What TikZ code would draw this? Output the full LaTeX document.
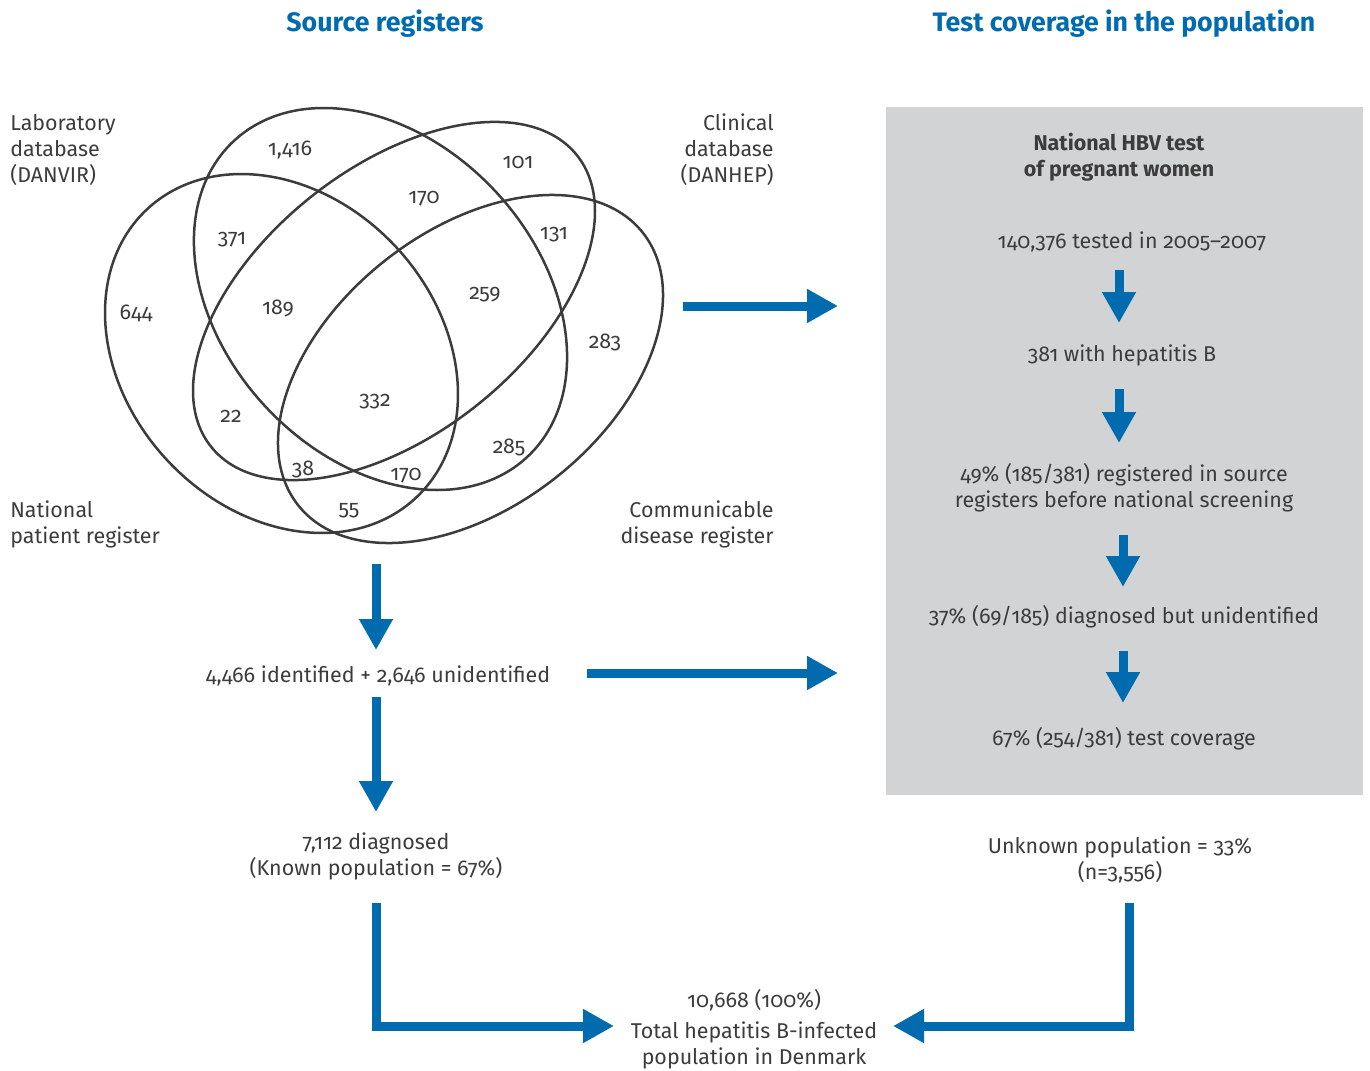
\documentclass[tikz,border=0pt]{standalone}
\usepackage{fontspec}
\setmainfont{Fira Sans}[Numbers=OldStyle]
\usetikzlibrary{arrows.meta}

\definecolor{hbvblue}{RGB}{0,107,174}
\definecolor{txtgray}{RGB}{60,60,60}
\definecolor{boxgray}{RGB}{209,211,212}

\begin{document}
\begin{tikzpicture}[yscale=-1, x=0.2mm, y=0.2mm,
    txt/.style={text=txtgray, font=\fontsize{12.2}{14.8}\selectfont, align=center, inner sep=0pt, yshift=-0.4mm},
    head/.style={text=hbvblue, font=\fontsize{15.2}{18}\selectfont\bfseries, inner sep=0pt, yshift=-0.4mm},
    venn/.style={draw=txtgray, line width=0.5mm},
    bluearrow/.style={draw=hbvblue, line width=1.8mm, -{Triangle[length=6.2mm, width=6.4mm]}}]
    \useasboundingbox (0,0) rectangle (1370,1071);

    % Grey panel on the right
    \fill[boxgray] (886,107) rectangle (1363,795);

    % Headings
    \node[head] (srcHead) at (385,22) {Source registers};
    \node[head] (covHead) at (1124,22) {Test coverage in the population};

    % Draw the four registers
    \draw[venn, rotate around={47.2:(380.5,299)}] (380.5,299) ellipse [x radius=215.6, y radius=157.5];
    \draw[venn, rotate around={-38.5:(394,301)}] (394,301) ellipse [x radius=233.9, y radius=133.2];
    \draw[venn, rotate around={47.1:(281.5,353.5)}] (281.5,353.5) ellipse [x radius=197.2, y radius=156.4];
    \draw[venn, rotate around={-38.3:(470.5,369)}] (470.5,369) ellipse [x radius=219.7, y radius=138.1];

    % Register names
    \node[txt, anchor=west, align=left] (labReg) at (10,148) {Laboratory\\database\\(DANVIR)};
    \node[txt, anchor=east, align=right] (clinReg) at (774,148) {Clinical\\database\\(DANHEP)};
    \node[txt, anchor=west, align=left] (patReg) at (10,522) {National\\patient register};
    \node[txt, anchor=east, align=right] (comReg) at (774,522) {Communicable\\disease register};

    % Counts in the overlaps
    \node[txt] (n1416) at (290,148) {1,416};
    \node[txt] (n101) at (518,160) {101};
    \node[txt] (n170a) at (424,197) {170};
    \node[txt] (n371) at (232,238) {371};
    \node[txt] (n131) at (554,233) {131};
    \node[txt] (n644) at (136,311) {644};
    \node[txt] (n189) at (278,306) {189};
    \node[txt] (n259) at (485,293) {259};
    \node[txt] (n283) at (605,340) {283};
    \node[txt] (n332) at (375,400) {332};
    \node[txt] (n22) at (231,414) {22};
    \node[txt] (n285) at (509,445) {285};
    \node[txt] (n38) at (303,467) {38};
    \node[txt] (n170b) at (406,474) {170};
    \node[txt] (n55) at (349,509) {55};

    % Left column
    \node[txt] (ident) at (378,674) {4,466 identified + 2,646 unidentified};
    \node[txt] (known) at (376,854) {7,112 diagnosed\\(Known population = 67\%)};

    % Right panel
    \node[txt, font=\fontsize{12.2}{14.8}\selectfont\bfseries] (hbvTest) at (1119,155) {National HBV test\\of pregnant women};
    \node[txt] (tested) at (1132,240) {140,376 tested in 2005--2007};
    \node[txt] (hepB) at (1122,353) {381 with hepatitis B};
    \node[txt] (regBefore) at (1124,486) {49\% (185/381) registered in source\\registers before national screening};
    \node[txt] (unident) at (1124,615) {37\% (69/185) diagnosed but unidentified};
    \node[txt] (coverage) at (1124,737) {67\% (254/381) test coverage};
    \node[txt] (unknown) at (1120,858) {Unknown population = 33\%\\(n=3,556)};

    % Total
    \node[txt] (total) at (754,998) {10,668 (100\%)};
    \node[txt] (totalPop) at (754,1043) {Total hepatitis B-infected\\population in Denmark};

    % Arrow end points
    \coordinate (vennRight) at (683,306);
    \coordinate (panelTop) at (838,306);
    \coordinate (vennBottom) at (376,564);
    \coordinate (identTop) at (376,650);
    \coordinate (identBottom) at (376,697);
    \coordinate (knownTop) at (376,812);
    \coordinate (identRight) at (587,673);
    \coordinate (panelMid) at (838,673);
    \coordinate (knownBottom) at (376,903);
    \coordinate (totalLeft) at (614,1026);
    \coordinate (unknownBottom) at (1129,903);
    \coordinate (totalRight) at (893,1026);

    % Draw the arrows
    \draw[bluearrow] (vennRight) -- (panelTop);
    \draw[bluearrow] (vennBottom) -- (identTop);
    \draw[bluearrow] (identBottom) -- (knownTop);
    \draw[bluearrow] (identRight) -- (panelMid);
    \draw[bluearrow] (knownBottom) |- (totalLeft);
    \draw[bluearrow] (unknownBottom) |- (totalRight);

    \draw[bluearrow] (1119,270) -- (1119,323);
    \draw[bluearrow] (1119,389) -- (1119,443);
    \draw[bluearrow] (1123,535) -- (1123,587);
    \draw[bluearrow] (1123,651) -- (1123,703);
\end{tikzpicture}
\end{document}
